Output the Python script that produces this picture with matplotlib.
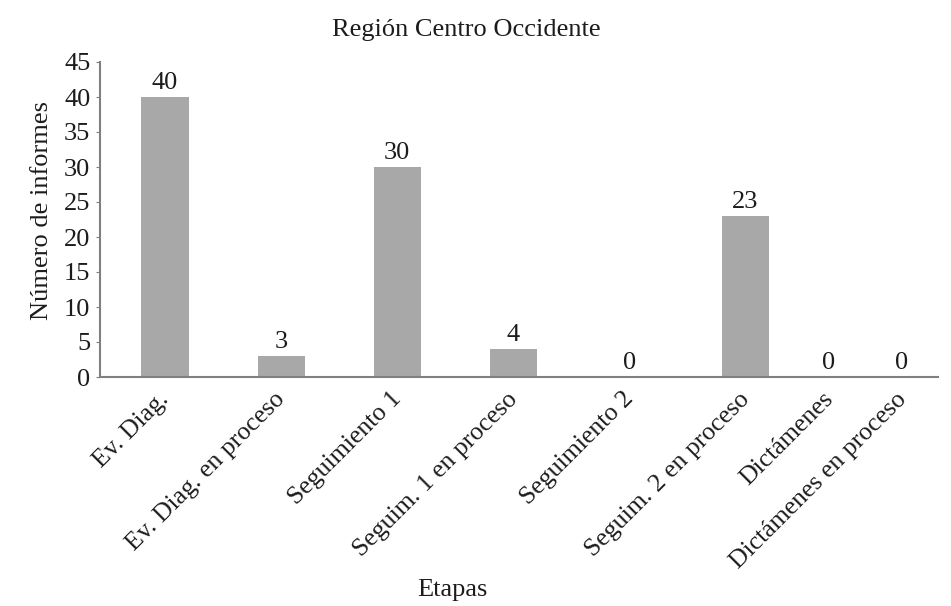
import matplotlib
matplotlib.use("Agg")
import matplotlib.pyplot as plt

categories = ["Ev. Diag.", "Ev. Diag. en proceso", "Seguimiento 1",
              "Seguim. 1 en proceso", "Seguimiento 2", "Seguim. 2 en proceso",
              "Dictámenes", "Dictámenes en proceso"]
informes = [40, 3, 30, 4, 0, 23, 0, 0]
yticks = [0, 5, 10, 15, 20, 25, 30, 35, 40, 45]

# horizontal slots for each stage (the last two sit closer together)
slots = [0, 1, 2, 3, 4, 5, 5.72, 6.35]
label_nudge = -0.06

plt.rcParams["font.family"] = ["Liberation Serif", "DejaVu Serif"]
text_color = "#1c1c1c"
axis_color = "#808080"

fig = plt.figure(figsize=(9.51, 6.06), dpi=100)
ax = fig.add_axes([100 / 951, 1 - 377 / 606, (938 - 100) / 951, (377 - 62) / 606])

bars = ax.bar(slots, informes, width=0.405, color="#a8a8a8", edgecolor="none")
for x, v in zip(slots, informes):
    ax.annotate(f"{v}", (x, v), xytext=(0, 2), textcoords="offset points",
                ha="center", va="bottom", fontsize=19, color=text_color)

ax.set_xlim(-0.56, 6.66)
ax.set_ylim(0, 45)
ax.set_yticks(yticks)
ax.set_xticks([s + label_nudge for s in slots])
ax.set_xticklabels(categories, rotation=45, ha="right", rotation_mode="anchor",
                   fontsize=18.5, color=text_color)
ax.tick_params(axis="x", length=0, pad=8)
ax.tick_params(axis="y", length=3, width=0.8, color=axis_color, pad=4,
               labelsize=19, labelcolor=text_color)

for side in ("top", "right"):
    ax.spines[side].set_visible(False)
for side in ("left", "bottom"):
    ax.spines[side].set_color(axis_color)
    ax.spines[side].set_linewidth(1.5)

ax.set_ylabel("Número de informes", fontsize=19, color=text_color, labelpad=8)
ax.yaxis.label.set_y(0.53)
fig.text(466 / 951, 1 - 30 / 606, "Región Centro Occidente", ha="center",
         va="center", fontsize=19, color=text_color)
fig.text(452 / 951, 1 - 590 / 606, "Etapas", ha="center", va="center",
         fontsize=19, color=text_color)

fig.savefig("out.png", dpi=100, facecolor="white")
